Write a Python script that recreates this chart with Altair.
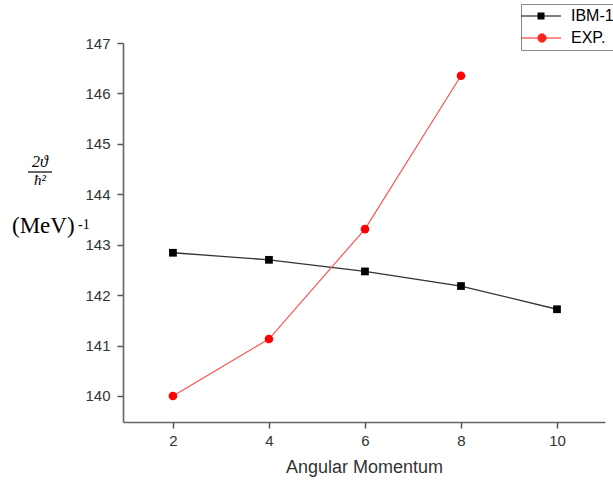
import altair as alt
import pandas as pd

# ---- data ----
series_names = ["IBM-1", "EXP."]
ibm_angular = [2, 4, 6, 8, 10]
ibm_values = [142.84, 142.70, 142.47, 142.18, 141.72]
exp_angular = [2, 4, 6, 8]
exp_values = [140.00, 141.13, 143.31, 146.35]
x_ticks = [2, 4, 6, 8, 10]
y_ticks = [140, 141, 142, 143, 144, 145, 146, 147]

ibm_df = pd.DataFrame({"J": ibm_angular, "val": ibm_values, "series": series_names[0]})
exp_df = pd.DataFrame({"J": exp_angular, "val": exp_values, "series": series_names[1]})
all_df = pd.concat([ibm_df, exp_df], ignore_index=True)

FONT = "Liberation Sans"
SERIF = "Liberation Serif"

x_enc = alt.X(
    "J:Q",
    scale=alt.Scale(domain=[0.96, 11], nice=False, zero=False),
    axis=alt.Axis(values=x_ticks, title="Angular Momentum", titleFont=FONT,
                  titleFontSize=18, titleFontWeight="normal", titleColor="#333",
                  titleY=50, titleBaseline="alphabetic",
                  labelFont=FONT, labelFontSize=15, labelColor="#333",
                  labelPadding=5, tickSize=6, tickColor="#555", tickWidth=1.5,
                  domainColor="#666", domainWidth=1.6, grid=False),
)
y_enc = alt.Y(
    "val:Q",
    scale=alt.Scale(domain=[139.484, 147], nice=False, zero=False),
    axis=alt.Axis(values=y_ticks, title=None,
                  labelFont=FONT, labelFontSize=15, labelColor="#333",
                  labelPadding=7, tickSize=6, tickColor="#555", tickWidth=1.5,
                  domainColor="#666", domainWidth=1.6, grid=False),
)

ibm_line = alt.Chart(ibm_df).mark_line(color="#333333", strokeWidth=1.3).encode(x=x_enc, y=y_enc)
ibm_pts = alt.Chart(ibm_df).mark_point(shape="square", filled=True, color="black",
                                       size=60, opacity=1).encode(x=x_enc, y=y_enc)
exp_line = alt.Chart(exp_df).mark_line(color="#ff4a4a", strokeWidth=1.1).encode(x=x_enc, y=y_enc)
exp_pts = alt.Chart(exp_df).mark_point(shape="circle", filled=True, color="#ff0000",
                                       size=75, opacity=1).encode(x=x_enc, y=y_enc)

# legend symbols: line segment plus a (hatched, hence filled) marker
sx = 1.6
sq = "M-2.4,0H5.6" + "".join(f"M{sx - 0.7:.2f},{y}H{sx + 0.7:.2f}"
                              for y in [-0.6, -0.4, -0.2, 0, 0.2, 0.4, 0.6])
circ_rows = [(-0.8, 0.41), (-0.6, 0.67), (-0.4, 0.81), (-0.2, 0.88), (0, 0.9),
             (0.2, 0.88), (0.4, 0.81), (0.6, 0.67), (0.8, 0.41)]
cx = 1.8
ci = "M-2.4,0H5.6" + "".join(f"M{cx - w:.2f},{y}H{cx + w:.2f}" for y, w in circ_rows)

leg = alt.Legend(title=None, orient="none", legendX=398, legendY=-39,
                 symbolSize=100, symbolStrokeWidth=1.2, labelOffset=30,
                 labelFont=FONT, labelFontSize=16, labelColor="black",
                 padding=4, rowPadding=6, strokeColor="#888")

legend_layer = alt.Chart(all_df).transform_filter("false").mark_point(
    filled=False, size=100, strokeWidth=1.2, opacity=1
).encode(
    x=x_enc, y=y_enc,
    color=alt.Color("series:N", scale=alt.Scale(domain=series_names, range=["black", "#ff2020"]), legend=leg),
    shape=alt.Shape("series:N", scale=alt.Scale(domain=series_names, range=[sq, ci]), legend=leg),
)

# y-axis label parts
lab = pd.DataFrame({"t": ["2\u03d1", "\u0127\u00b2", "(MeV)", "-1"]})
frac_top = alt.Chart(lab).transform_filter("datum.t == '2\u03d1'").mark_text(
    font=SERIF, fontStyle="italic", fontSize=16, align="center", baseline="alphabetic", color="black"
).encode(text="t:N", x=alt.value(-83), y=alt.value(124))
frac_bot = alt.Chart(lab).transform_filter("datum.t == '\u0127\u00b2'").mark_text(
    font=SERIF, fontStyle="italic", fontSize=15, align="center", baseline="alphabetic", color="black"
).encode(text="t:N", x=alt.value(-83), y=alt.value(142))
frac_bar = alt.Chart(lab).transform_filter("datum.t == '2\u03d1'").mark_rule(
    color="black", strokeWidth=1.2
).encode(x=alt.value(-95), x2=alt.value(-71), y=alt.value(129))
mev = alt.Chart(lab).transform_filter("datum.t == '(MeV)'").mark_text(
    font=SERIF, fontSize=23, align="left", baseline="alphabetic", color="black"
).encode(text="t:N", x=alt.value(-111), y=alt.value(190))
sup = alt.Chart(lab).transform_filter("datum.t == '-1'").mark_text(
    font=SERIF, fontSize=14, align="left", baseline="alphabetic", color="black"
).encode(text="t:N", x=alt.value(-45), y=alt.value(186))

chart = alt.layer(
    ibm_line, ibm_pts, exp_line, exp_pts, legend_layer,
    frac_top, frac_bar, frac_bot, mev, sup
).resolve_scale(
    color="independent", shape="independent"
).properties(
    width=482, height=379,
    autosize=alt.AutoSizeParams(type="none"),
    padding={"left": 123, "top": 43, "right": 8, "bottom": 61},
    background="white",
).configure_view(stroke=None)

chart.save("out.html", embed_options={"renderer": "svg", "actions": False})
